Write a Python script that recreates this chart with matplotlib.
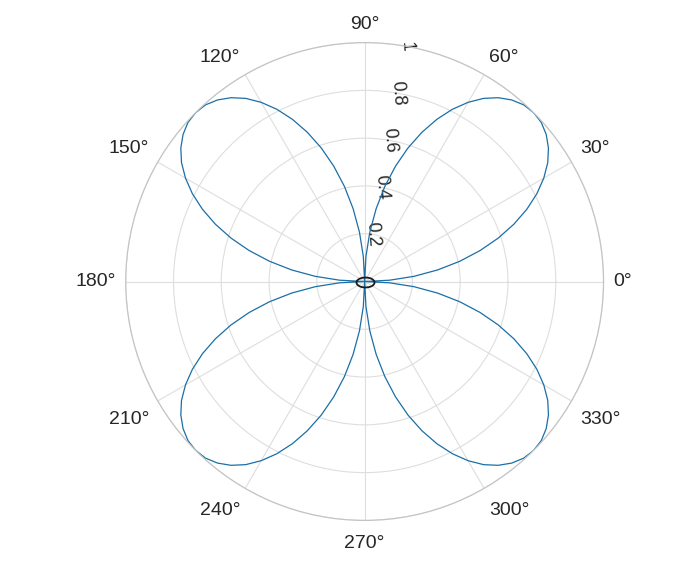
"""Four-petal rose curve on a polar grid."""
import numpy as np
import matplotlib.pyplot as plt
from matplotlib.path import Path

plt.rcParams["font.family"] = ["Liberation Sans", "DejaVu Sans"]

# one petal, radius read every 3 degrees from 0 to 90
PETAL_R = [0.0, 0.105, 0.208, 0.309, 0.407, 0.5, 0.588, 0.669, 0.743, 0.809,
           0.866, 0.914, 0.951, 0.978, 0.995, 1.0, 0.995, 0.978, 0.951, 0.914,
           0.866, 0.809, 0.743, 0.669, 0.588, 0.5, 0.407, 0.309, 0.208, 0.105, 0.0]
STEP_DEG = 3
N_PETALS = 4
R_TICKS = [0.2, 0.4, 0.6, 0.8, 1.0]
R_TICK_LABELS = ["0.2", "0.4", "0.6", "0.8", "1"]
THETA_TICKS = list(range(0, 360, 30))

COLORS = {
    "line": "#1a6fa6",
    "text": "#262626",
    "grid": "#dedede",
    "spine": "#c4c4c4",
    "marker": "#1a1a1a",
}

# stitch the petals end to end (drop the repeated zero where two petals meet)
r = np.array(PETAL_R[:-1] * N_PETALS + [PETAL_R[-1]])
theta = np.deg2rad(np.arange(len(r)) * STEP_DEG)

fig = plt.figure(figsize=(7.0, 5.72), dpi=100)
ax = fig.add_axes([0.1796, 0.0900, 0.6826, 0.8357], projection="polar")

ax.plot(theta, r, color=COLORS["line"], linewidth=0.9)

# small flattened circle at the pole
t = np.linspace(0, 2 * np.pi, 60)
ellipse = Path(np.column_stack([np.cos(t), 0.55 * np.sin(t)]), closed=True)
ax.plot([0], [0], marker=ellipse, markersize=13, markerfacecolor="none",
        markeredgecolor=COLORS["marker"], markeredgewidth=1.3, linestyle="none")

ax.set_ylim(0, 1)
ax.set_yticks(R_TICKS)
ax.set_yticklabels(R_TICK_LABELS)
ax.set_rlabel_position(80)
ax.tick_params(axis="y", labelrotation=-86, labelsize=13, colors=COLORS["text"])
for lab in ax.get_yticklabels():
    lab.set_horizontalalignment("center")
    lab.set_verticalalignment("center")

# angle labels: anchored by the edge nearest the circle, like MATLAB does it
ax.set_xticks(np.deg2rad(THETA_TICKS))
ax.set_xticklabels([])
pad = 7.2
for d in THETA_TICKS:
    c, s = np.cos(np.deg2rad(d)), np.sin(np.deg2rad(d))
    ha = "left" if c > 0.1 else "right" if c < -0.1 else "center"
    va = "bottom" if s > 0.1 else "top" if s < -0.1 else "center"
    dy = pad * s - (3.5 if s < -0.1 else 0)
    ax.annotate(f"{d}°", xy=(np.deg2rad(d), 1.0), xytext=(pad * c, dy),
                textcoords="offset points", ha=ha, va=va,
                fontsize=14, color=COLORS["text"], annotation_clip=False)

ax.grid(True, color=COLORS["grid"], linewidth=0.8)
ax.spines["polar"].set_color(COLORS["spine"])
ax.spines["polar"].set_linewidth(0.9)

fig.savefig("out.png", dpi=100, facecolor="white")
